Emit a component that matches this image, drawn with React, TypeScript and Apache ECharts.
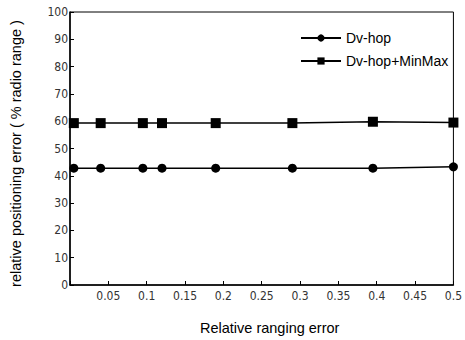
import React, { useEffect, useRef } from "react";
import * as echarts from "echarts";

const xValues = [0.005, 0.04, 0.095, 0.12, 0.19, 0.29, 0.395, 0.5];
const dvHop = [42.8, 42.8, 42.8, 42.8, 42.8, 42.8, 42.8, 43.3];
const dvHopMinMax = [59.3, 59.3, 59.3, 59.3, 59.3, 59.3, 59.8, 59.5];
const seriesNames = ["Dv-hop", "Dv-hop+MinMax"];

export default function App() {
  const ref = useRef<HTMLDivElement>(null);
  useEffect(() => {
    if (!ref.current) return;
    const chart = echarts.init(ref.current, undefined, { renderer: "svg" });
    const font = "'DejaVu Sans Condensed', 'Liberation Sans', sans-serif";
    const sans = "'Liberation Sans', Arial, sans-serif";
    chart.setOption({
      animation: false,
      backgroundColor: "#fff",
      grid: {
        left: 67,
        right: 3,
        top: 12,
        bottom: 55,
        show: true,
        borderColor: "#000",
        borderWidth: 1,
      },
      legend: {
        orient: "vertical",
        left: 295,
        top: 26,
        itemWidth: 40,
        itemHeight: 9,
        itemGap: 9,
        textStyle: { fontFamily: sans, fontSize: 14, color: "#000" },
        data: seriesNames,
      },
      xAxis: {
        type: "value",
        min: 0,
        max: 0.5,
        interval: 0.05,
        name: "Relative ranging error",
        nameLocation: "middle",
        nameGap: 35,
        nameTextStyle: { fontFamily: sans, fontSize: 14.5, color: "#000", padding: [0, 0, 0, 16] },
        axisLine: { lineStyle: { color: "#000", width: 1.5 } },
        axisTick: { inside: true, length: 4, lineStyle: { color: "#000" } },
        axisLabel: {
          fontFamily: font,
          fontSize: 12,
          color: "#333",
          margin: 5,
          formatter: (v: number) => (v === 0 ? "" : String(parseFloat(v.toFixed(2)))),
        },
        splitLine: { show: false },
      },
      yAxis: {
        type: "value",
        min: 0,
        max: 100,
        interval: 10,
        name: "relative positioning error ( % radio range )",
        nameLocation: "middle",
        nameGap: 47,
        nameTextStyle: { fontFamily: sans, fontSize: 14.5, color: "#000", padding: [0, 10, 0, 0] },
        axisLine: { lineStyle: { color: "#000", width: 1.5 } },
        axisTick: { inside: true, length: 4, lineStyle: { color: "#000" } },
        axisLabel: { fontFamily: font, fontSize: 12, color: "#333", margin: 2 },
        splitLine: { show: false },
      },
      series: [
        {
          name: seriesNames[0],
          type: "line",
          data: xValues.map((x, i) => [x, dvHop[i]]),
          symbol: "circle",
          symbolSize: 9,
          itemStyle: { color: "#000" },
          lineStyle: { color: "#000", width: 1.5 },
        },
        {
          name: seriesNames[1],
          type: "line",
          data: xValues.map((x, i) => [x, dvHopMinMax[i]]),
          symbol: "rect",
          symbolSize: 10,
          itemStyle: { color: "#000" },
          lineStyle: { color: "#000", width: 1.5 },
        },
      ],
    });
    return () => chart.dispose();
  }, []);
  return <div ref={ref} style={{ width: 465, height: 340, position: "absolute", left: 0, top: 0 }} />;
}
